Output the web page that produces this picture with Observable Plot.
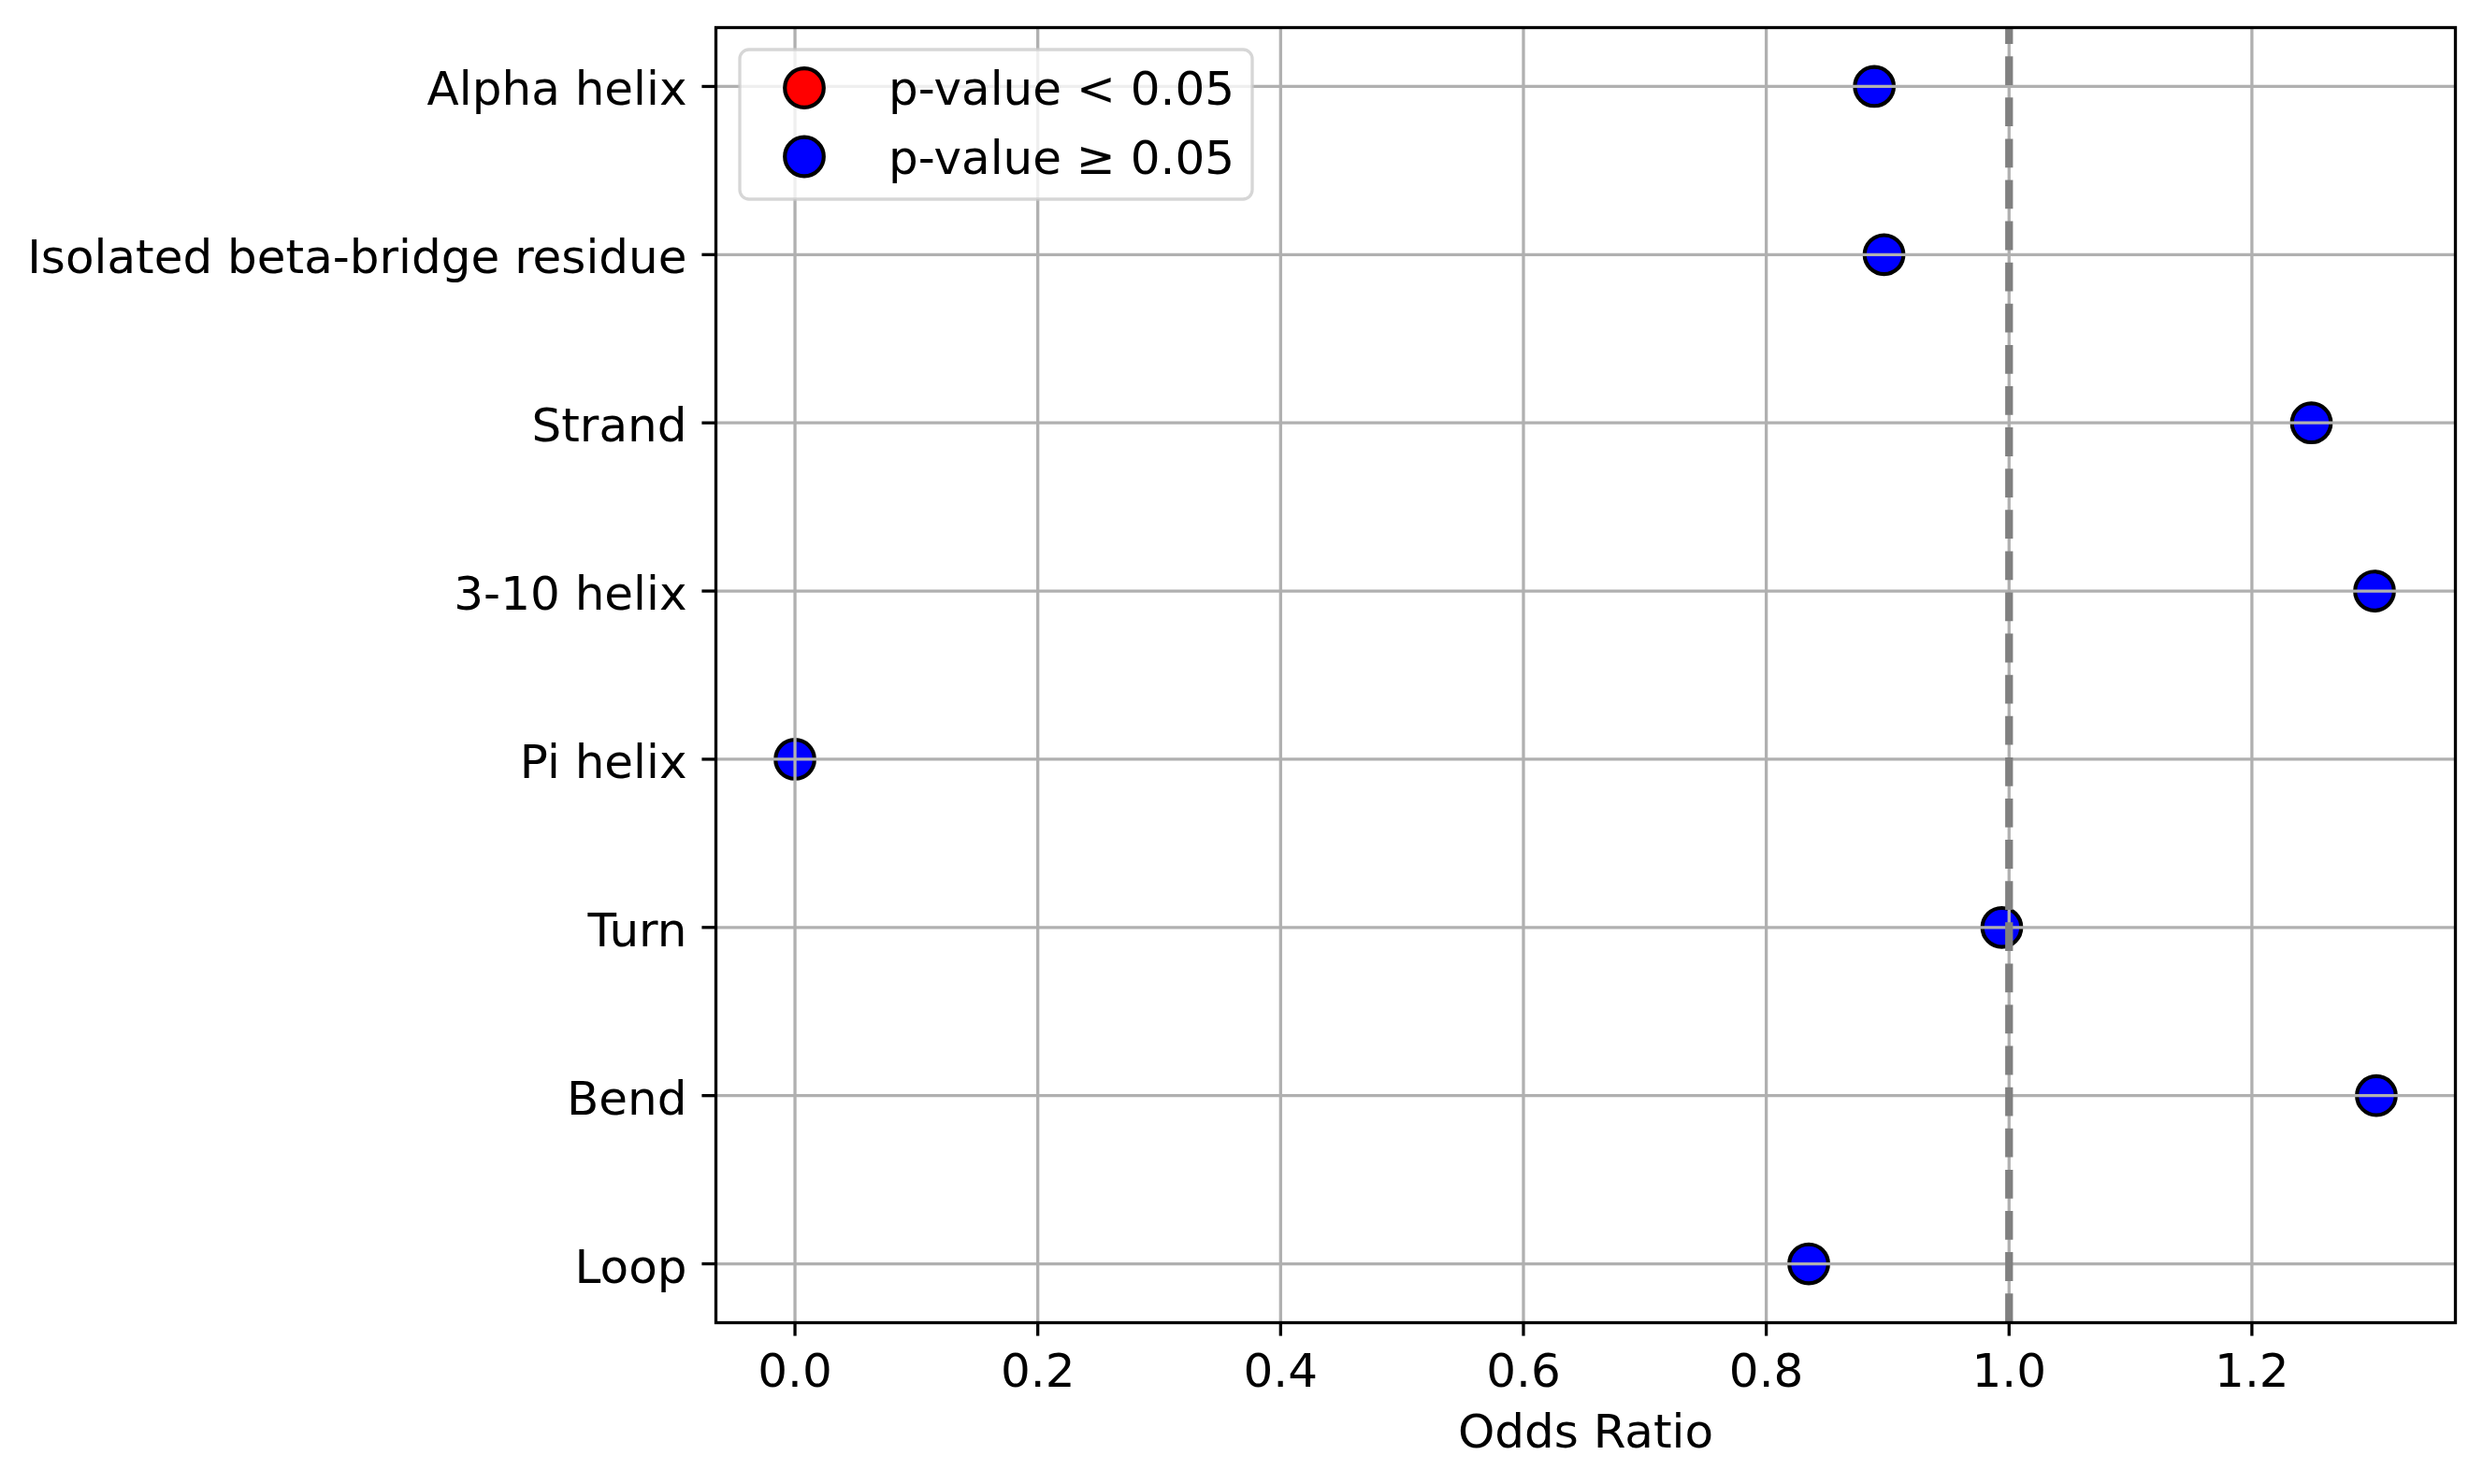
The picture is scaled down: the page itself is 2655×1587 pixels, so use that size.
<!DOCTYPE html>
<html>
<head>
<meta charset="utf-8">
<script src="https://cdn.jsdelivr.net/npm/d3@7"></script>
<script src="https://cdn.jsdelivr.net/npm/@observablehq/plot@0.6"></script>
<style>
  html, body { margin: 0; padding: 0; background: #fff; overflow: hidden; }
  #wrap { position: relative; width: 2655px; height: 1587px; }
  #legend { position: absolute; }
</style>
</head>
<body>
<div id="wrap"></div>
<script>
// ---- data ----
const categories = ["Alpha helix", "Isolated beta-bridge residue", "Strand", "3-10 helix", "Pi helix", "Turn", "Bend", "Loop"];
const oddsRatios = [0.889, 0.897, 1.249, 1.301, 0.0, 0.994, 1.3025, 0.835];
const significance = ["p-value ≥ 0.05", "p-value ≥ 0.05", "p-value ≥ 0.05", "p-value ≥ 0.05", "p-value ≥ 0.05", "p-value ≥ 0.05", "p-value ≥ 0.05", "p-value ≥ 0.05"];
const legendLabels = ["p-value < 0.05", "p-value ≥ 0.05"];
const legendColors = ["red", "blue"];
const xTicks = [0.0, 0.2, 0.4, 0.6, 0.8, 1.0, 1.2];
const referenceLine = [1.0];
const xLabel = "Odds Ratio";

const data = categories.map((c, i) => ({category: c, or: oddsRatios[i], group: significance[i]}));

// ---- layout ----
const W = 2655, H = 1587;
const mL = 765, mR = 30, mT = 29, mB = 173;
const fontSize = 50;
const tickLen = 14.6, lw = 3.3;
const [lo, hi] = d3.extent(oddsRatios);
const pad = (hi - lo) * 0.05;

const dash = 30.8, gap = 13.3, period = dash + gap;
const plotH = H - mT - mB;
const dashOffset = (period - ((plotH - dash) % period)) % period;

const chart = Plot.plot({
  width: W,
  height: H,
  marginLeft: mL,
  marginRight: mR,
  marginTop: mT,
  marginBottom: mB,
  style: {fontFamily: "'DejaVu Sans', sans-serif", fontSize: fontSize + "px", background: "white", color: "black"},
  x: {domain: [lo - pad, hi + pad], label: null},
  y: {type: "point", domain: categories, padding: 0.35, round: false, label: null},
  color: {domain: legendLabels, range: legendColors},
  marks: [
    Plot.dot(data, {x: "or", y: "category", fill: "group", r: 20.8, stroke: "black", strokeWidth: 4.2}),
    Plot.gridX(xTicks, {stroke: "#b0b0b0", strokeOpacity: 1, strokeWidth: lw}),
    Plot.gridY(categories, {stroke: "#b0b0b0", strokeOpacity: 1, strokeWidth: lw}),
    Plot.ruleX(referenceLine, {stroke: "gray", strokeWidth: 8.3, strokeDasharray: `${dash},${gap}`, strokeDashoffset: dashOffset}),
    Plot.frame({stroke: "black", strokeWidth: lw}),
    Plot.axisX(xTicks, {tickSize: tickLen, tickPadding: 18, strokeWidth: lw, tickFormat: d3.format(".1f"), label: null}),
    Plot.text([xLabel], {frameAnchor: "bottom", dy: 133, lineAnchor: "bottom", fill: "black", fontSize: fontSize}),
    Plot.axisY({tickSize: tickLen, fill: "none", strokeWidth: lw, label: null}),
    Plot.axisY({tickSize: 0, tickPadding: 31, dy: 4, textAnchor: "end", label: null})
  ]
});

const wrap = document.getElementById("wrap");
wrap.appendChild(chart);

// ---- legend (inside the axes, upper left) ----
const lg = {left: mL + 26, top: mT + 24, w: 548, h: 160};
const legend = d3.select(wrap).append("svg")
  .attr("id", "legend")
  .attr("width", lg.w + 10).attr("height", lg.h + 10)
  .style("left", (lg.left - 5) + "px").style("top", (lg.top - 5) + "px")
  .style("font-family", "'DejaVu Sans', sans-serif");
legend.append("rect")
  .attr("x", 5).attr("y", 5).attr("width", lg.w).attr("height", lg.h)
  .attr("rx", 10).attr("ry", 10)
  .attr("fill", "white").attr("fill-opacity", 0.8)
  .attr("stroke", "#cccccc").attr("stroke-opacity", 0.8).attr("stroke-width", lw);
const items = legend.selectAll("g.item").data(legendLabels).join("g")
  .attr("class", "item")
  .attr("transform", (d, i) => `translate(5, ${5 + 41 + i * 73.5})`);
items.append("circle")
  .attr("cx", 69).attr("cy", 0).attr("r", 20.8)
  .attr("fill", (d, i) => legendColors[i]).attr("stroke", "black").attr("stroke-width", 4.2);
items.append("text")
  .attr("x", 159).attr("y", 18)
  .attr("font-size", fontSize).attr("fill", "black")
  .text(d => d);
</script>
</body>
</html>
